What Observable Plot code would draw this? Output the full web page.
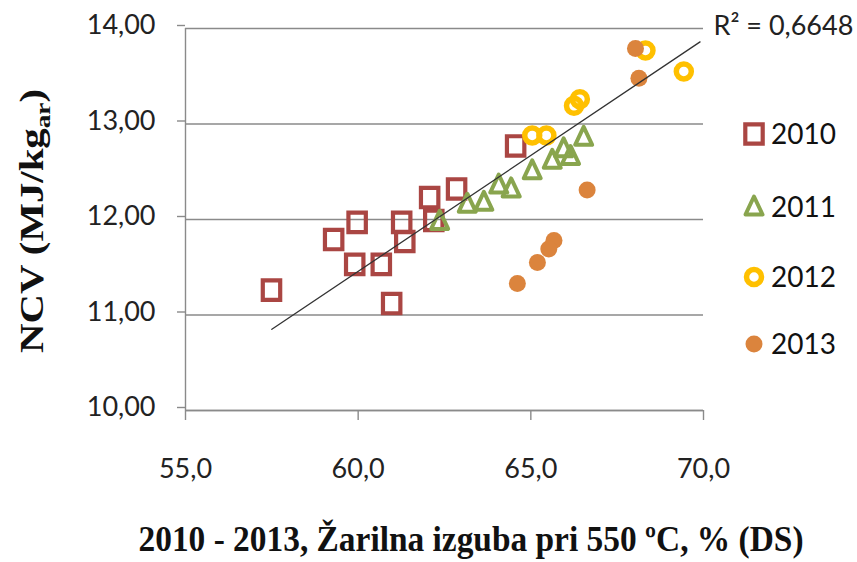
<!DOCTYPE html>
<html><head><meta charset="utf-8">
<script src="https://cdn.jsdelivr.net/npm/d3@7"></script>
<script src="https://cdn.jsdelivr.net/npm/@observablehq/plot@0.6"></script>
<style>
html,body{margin:0;padding:0;background:#fff;}
#chart{position:relative;width:857px;height:562px;overflow:hidden;}
</style></head><body><div id="chart"></div>
<script>
// ---- data ----
const x2010 = [57.49, 59.29, 59.97, 59.90, 60.67, 60.97, 61.26, 61.35, 62.07, 62.19, 62.85, 64.56];
const y2010 = [11.26, 11.79, 11.97, 11.53, 11.53, 11.12, 11.97, 11.77, 12.23, 11.99, 12.32, 12.77];
const x2011 = [62.36, 63.16, 63.64, 64.07, 64.43, 65.04, 65.62, 65.95, 66.15, 66.53];
const y2011 = [11.98, 12.16, 12.18, 12.36, 12.32, 12.51, 12.62, 12.74, 12.66, 12.86];
const x2012 = [65.04, 65.45, 66.25, 66.42, 68.32, 69.43];
const y2012 = [12.88, 12.88, 13.19, 13.26, 13.77, 13.55];
const x2013 = [68.03, 68.13, 66.63, 65.67, 65.52, 65.19, 64.61];
const y2013 = [13.79, 13.48, 12.31, 11.78, 11.69, 11.55, 11.33];
const trendX = [57.5, 69.9];
const trendY = [10.85, 13.86];
const years = ["2010", "2011", "2012", "2013"];
const xTicks = [55, 60, 65, 70];
const yTicks = [10, 11, 12, 13, 14];
const r2Label = "R² = 0,6648";
const xTitle = "2010 - 2013, Žarilna izguba pri 550 ºC, % (DS)";
const yTitleMain = "NCV (MJ/kg";
const yTitleSub = "ar";
const yTitleEnd = ")";

// ---- styles ----
const colors = {"2010": "#AA4643", "2011": "#89A54E", "2012": "#FFC000", "2013": "#DB843D"};
const grey = "#8a8a8a";
const tickFont = "Lato, 'Open Sans', sans-serif";
const symSquare = {draw(c) {c.moveTo(-8.7, -9.7); c.lineTo(8.7, -9.7); c.lineTo(8.7, 9.7); c.lineTo(-8.7, 9.7); c.closePath();}};
const symTri = {draw(c) {c.moveTo(0, -10.5); c.lineTo(8.5, 7.5); c.lineTo(-8.5, 7.5); c.closePath();}};
const symRing = {draw(c) {c.moveTo(7.5, 0); c.arc(0, 0, 7.5, 0, 2 * Math.PI); c.closePath();}};
const symDot = {draw(c) {c.moveTo(8.5, 0); c.arc(0, 0, 8.5, 0, 2 * Math.PI); c.closePath();}};

const rows = (xs, ys, year) => xs.map((x, i) => ({x, y: ys[i], year}));
const d2010 = rows(x2010, y2010, years[0]);
const d2011 = rows(x2011, y2011, years[1]);
const d2012 = rows(x2012, y2012, years[2]);
const d2013 = rows(x2013, y2013, years[3]);
const trend = trendX.map((x, i) => ({x, y: trendY[i]}));

const fmtY = d => d.toFixed(2).replace(".", ",");
const fmtX = d => d.toFixed(1).replace(".", ",");

const plot = Plot.plot({
  width: 857,
  height: 562,
  marginLeft: 185,
  marginRight: 154,
  marginTop: 28,
  marginBottom: 152,
  style: {fontFamily: tickFont, background: "#fff", overflow: "visible"},
  x: {domain: [55, 70]},
  y: {domain: [10, 14]},
  marks: [
    Plot.gridY(yTicks, {stroke: grey, strokeOpacity: 1, strokeWidth: 1.4}),
    Plot.ruleX([55], {stroke: grey, strokeWidth: 1.4}),
    Plot.ruleY([10], {stroke: grey, strokeWidth: 1.4}),
    Plot.axisY(yTicks, {tickSize: 8, tickPadding: 22, tickFormat: fmtY, fontSize: 27, label: null, stroke: grey, strokeWidth: 1.4, fill: "#222", dy: -3}),
    Plot.axisX(xTicks, {tickSize: 10, tickPadding: 38, tickFormat: fmtX, fontSize: 27, label: null, stroke: grey, strokeWidth: 1.4, fill: "#222"}),
    Plot.dot(d2010, {x: "x", y: "y", symbol: symSquare, stroke: colors["2010"], strokeWidth: 4.2, fill: "none", strokeLinejoin: "miter"}),
    Plot.dot(d2011, {x: "x", y: "y", symbol: symTri, stroke: colors["2011"], strokeWidth: 4, fill: "none", strokeLinejoin: "round"}),
    Plot.dot(d2012, {x: "x", y: "y", symbol: symRing, stroke: colors["2012"], strokeWidth: 5.5, fill: "none"}),
    Plot.dot(d2013, {x: "x", y: "y", symbol: symDot, fill: colors["2013"], stroke: "none"}),
    Plot.line(trend, {x: "x", y: "y", stroke: "#333", strokeWidth: 1.3}),
    Plot.text([r2Label], {x: () => 70, y: () => 14, text: d => d, textAnchor: "start", dx: 10, dy: -2, fontSize: 27, fill: "#222"})
  ]
});
document.getElementById("chart").appendChild(plot);

const svg = d3.select(plot);
// axis titles
svg.append("text")
  .attr("x", 471).attr("y", 551)
  .attr("text-anchor", "middle")
  .attr("font-family", "'Liberation Serif', 'Times New Roman', serif")
  .attr("font-weight", "bold").attr("font-size", 36).attr("fill", "#111")
  .attr("textLength", 665).attr("lengthAdjust", "spacingAndGlyphs")
  .text(xTitle);

const yt = svg.append("text")
  .attr("transform", "translate(43,221) rotate(-90)")
  .attr("text-anchor", "middle")
  .attr("font-family", "'Liberation Serif', 'Times New Roman', serif")
  .attr("font-weight", "bold").attr("font-size", 33).attr("fill", "#111")
  .attr("textLength", 264).attr("lengthAdjust", "spacingAndGlyphs");
yt.append("tspan").text(yTitleMain);
yt.append("tspan").attr("font-size", 22).attr("dy", 7).text(yTitleSub);
yt.append("tspan").attr("dy", -7).text(yTitleEnd);

// legend
const legendSyms = [
  {sym: symSquare, stroke: colors["2010"], fill: "none", sw: 4.2},
  {sym: symTri, stroke: colors["2011"], fill: "none", sw: 4},
  {sym: symRing, stroke: colors["2012"], fill: "none", sw: 5.5},
  {sym: symDot, stroke: "none", fill: colors["2013"], sw: 0}
];
const legendY = [134, 207, 277, 344];
const lg = svg.append("g").attr("text-anchor", "start");
years.forEach((yr, i) => {
  const s = legendSyms[i];
  lg.append("path")
    .attr("transform", `translate(754,${legendY[i]})`)
    .attr("d", d3.symbol(s.sym)())
    .attr("fill", s.fill).attr("stroke", s.stroke).attr("stroke-width", s.sw)
    .attr("stroke-linejoin", i === 1 ? "round" : "miter");
  lg.append("text")
    .attr("x", 771).attr("y", legendY[i]).attr("dy", "0.36em")
    .attr("text-anchor", "start")
    .attr("font-family", tickFont).attr("font-size", 28).attr("fill", "#111")
    .text(yr);
});
</script>
</body></html>
